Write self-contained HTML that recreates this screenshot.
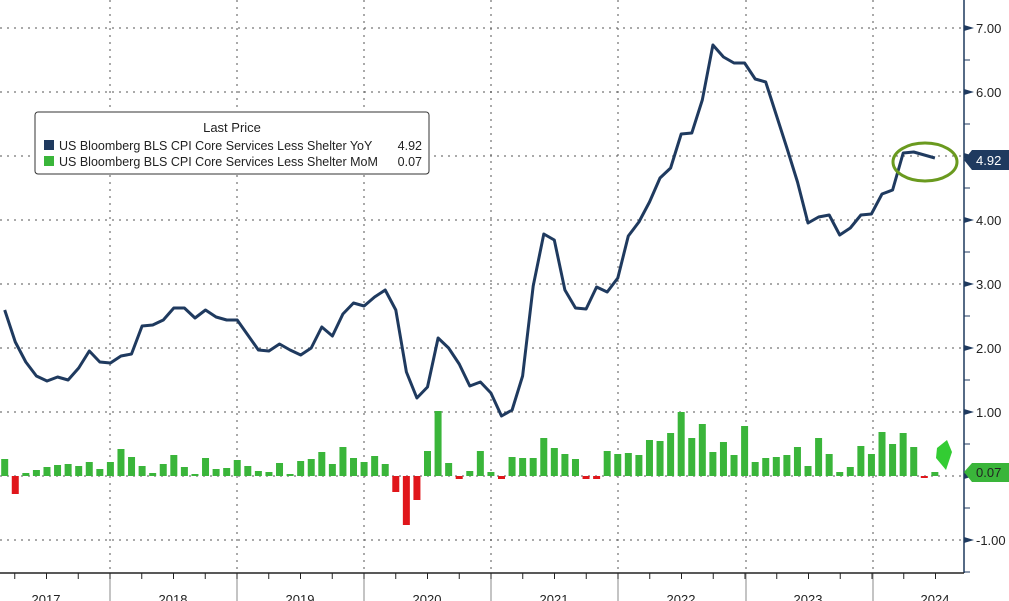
<!DOCTYPE html><html><head><style>body{margin:0;background:#fff}svg{display:block}text{font-family:"Liberation Sans",sans-serif}</style></head><body>
<svg id="s" width="1009" height="601" xmlns="http://www.w3.org/2000/svg">
<g id="g"></g>
<rect x="35" y="112" width="394" height="62" rx="3" fill="#fff" stroke="#333"/>
<text x="232" y="132" font-size="13" text-anchor="middle" fill="#222">Last Price</text>
<rect x="44" y="140" width="10" height="10" fill="#1f3a5f"/>
<rect x="44" y="156" width="10" height="10" fill="#3ab53a"/>
<text x="59" y="150" font-size="12.5" fill="#222">US Bloomberg BLS CPI Core Services Less Shelter YoY</text>
<text x="422" y="150" font-size="12.5" fill="#222" text-anchor="end">4.92</text>
<text x="59" y="166" font-size="12.5" fill="#222">US Bloomberg BLS CPI Core Services Less Shelter MoM</text>
<text x="422" y="166" font-size="12.5" fill="#222" text-anchor="end">0.07</text>
<ellipse cx="925" cy="162" rx="32" ry="19" fill="none" stroke="#6a9a1f" stroke-width="3"/>
<polygon points="937,448 947,440 952,452 946,470 936,458" fill="#33cc33"/>
<polygon points="964,160 972,150 1009,150 1009,170 972,170" fill="#1f3a5f"/>
<text x="976" y="165" font-size="13" fill="#fff">4.92</text>
<polygon points="964,472 972,463 1009,463 1009,482 972,482" fill="#3ab53a"/>
<text x="976" y="477" font-size="13" fill="#222">0.07</text>
</svg>
<script>
const g=document.getElementById('g');let h='';
const Y=v=>476-64*v;
for(let v=-1;v<=7;v++){let y=Y(v);h+=`<line x1="0" x2="964" y1="${y}" y2="${y}" stroke="#555" stroke-dasharray="2,5" stroke-width="1"/>`;
if(v!==0&&v!==5&&v!==4||v===4||v===5){}
h+=`<polygon points="964,${y-3} 974,${y} 964,${y+3}" fill="#1f3a5f"/>`;
if(v!==5&&v!==0)h+=`<text x="976" y="${y+5}" font-size="13" fill="#222">${v<0?'-':''}${Math.abs(v)}.00</text>`;
h+=`<line x1="964" x2="970" y1="${y+32}" y2="${y+32}" stroke="#1f3a5f"/>`;}
const yr=[110,237,364,491,618,746,873];
yr.forEach(x=>{h+=`<line x1="${x}" x2="${x}" y1="0" y2="573" stroke="#555" stroke-dasharray="2,5"/><line x1="${x}" x2="${x}" y1="573" y2="601" stroke="#888"/>`});
for(let i=0;i<31;i++){let x=-17+i*31.75;h+=`<line x1="${x}" x2="${x}" y1="573" y2="579" stroke="#222"/>`}
['2017','2018','2019','2020','2021','2022','2023','2024'].forEach((t,i)=>{h+=`<text x="${46+i*127}" y="604" font-size="13" fill="#222" text-anchor="middle">${t}</text>`});
const b=[17,-18,3,6,9,11,12,10,14,7,14,27,19,10,3,12,21,9,2,18,7,8,16,10,5,4,13,2,15,17,24,12,29,18,14,20,12,-16,-49,-24,25,65,13,-3,5,25,4,-3,19,18,18,38,28,22,17,-3,-3,25,22,23,21,36,35,43,64,38,52,24,34,21,50,14,18,19,21,29,10,38,22,4,9,30,22,44,32,43,29,-2,4];
b.forEach((p,i)=>{let x=4.7+i*10.57-3.5;h+=p>=0?`<rect x="${x}" y="${476-p}" width="7" height="${p}" fill="#3ab53a"/>`:`<rect x="${x}" y="476" width="7" height="${-p}" fill="#e0161b"/>`});
const l=[310,342,362,376,381,377,380,368,351,362,363,356,354,326,325,320,308,308,318,310,317,320,320,335,350,351,344,350,355,348,327,336,314,303,306,297,290,310,372,398,387,338,348,364,386,382,393,416,410,376,286,234,240,290,308,309,287,292,278,236,222,202,178,168,134,133,100,45,57,63,63,79,82,115,148,182,223,217,215,235,228,215,214,194,190,153,152,155,158];
h+=`<polyline fill="none" stroke="#1f3a5f" stroke-width="3" stroke-linejoin="round" points="${l.map((y,i)=>(4.7+i*10.57).toFixed(1)+','+y).join(' ')}"/>`;
h+=`<line x1="964" x2="964" y1="0" y2="573" stroke="#1f3a5f" stroke-width="1.5"/><line x1="0" x2="964" y1="573" y2="573" stroke="#222" stroke-width="1.5"/>`;
g.innerHTML=h;
</script></body></html>
